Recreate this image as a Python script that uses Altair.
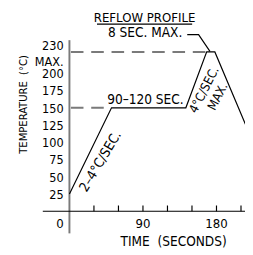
import altair as alt
import pandas as pd

# ---- data ----
profile_time = [0, 51.5, 142.5, 168, 178, 220]
profile_temp = [25, 150, 150, 231, 231, 113.5]

dash_time = [1.8, 168, 1.8, 42]
dash_temp = [231, 231, 150, 150]
dash_group = ["max", "max", "soak", "soak"]

x_tick_values = [30, 60, 90, 120, 150, 180, 210]
x_labels = ["0", "90", "180"]
x_label_pos = [-11.6, 90, 180]

y_labels = ["230", "MAX.", "200", "175", "150", "125", "100", "75", "50", "25"]
y_label_pos = [240.2, 218.2, 199.5, 175, 150, 125, 100, 75, 50, 25]

leader_time = [144.2, 158.1, 172]
leader_temp = [256.1, 256.1, 231.7]

FONT = "DejaVu Sans Condensed"

xs = alt.Scale(domain=[-75.2, 214.9], nice=False, zero=False)
ys = alt.Scale(domain=[-57.5, 288.8], nice=False, zero=False)


def X(field="t"):
    return alt.X(f"{field}:Q", scale=xs, axis=None)


def Y(field="v"):
    return alt.Y(f"{field}:Q", scale=ys, axis=None)


def txt(size, **kw):
    base = dict(font=FONT, fontSize=size, baseline="middle", color="black", dy=1)
    base.setdefault("align", "center")
    base.update(kw)
    return base


profile = alt.Chart(pd.DataFrame({"t": profile_time, "v": profile_temp})).mark_line(
    color="black", strokeWidth=1.2
).encode(x=X(), y=Y(), order=alt.Order("t:Q"))

dashes = alt.Chart(pd.DataFrame({"t": dash_time, "v": dash_temp, "g": dash_group})).mark_line(
    color="#7a7a7a", strokeWidth=2, strokeDash=[13, 8]
).encode(x=X(), y=Y(), detail="g:N")

leader = alt.Chart(pd.DataFrame({"t": leader_time, "v": leader_temp, "i": [0, 1, 2]})).mark_line(
    color="black", strokeWidth=1.2
).encode(x=X(), y=Y(), order="i:Q")

y_axis = alt.Chart(pd.DataFrame({"t": [0], "v": [248], "v2": [-32]})).mark_rule(
    color="#7a7a7a", strokeWidth=2
).encode(x=X(), y=Y(), y2="v2:Q")

x_axis = alt.Chart(pd.DataFrame({"t": [-32.6], "t2": [216], "v": [0]})).mark_rule(
    color="black", strokeWidth=1.2
).encode(x=X(), x2="t2:Q", y=Y())

x_ticks = alt.Chart(pd.DataFrame({"t": x_tick_values, "v": [0] * 7, "v2": [8.4] * 7})).mark_rule(
    color="black", strokeWidth=1.2
).encode(x=X(), y=Y(), y2="v2:Q")

x_tick_labels = alt.Chart(pd.DataFrame({"t": x_label_pos, "v": [-16.8] * 3, "s": x_labels})).mark_text(
    **txt(13.5)
).encode(x=X(), y=Y(), text="s:N")

y_tick_labels = alt.Chart(pd.DataFrame({"t": [-7.1] * len(y_labels), "v": y_label_pos, "s": y_labels})).mark_text(
    **txt(13, align="right")
).encode(x=X(), y=Y(), text="s:N")

texts_plain = alt.Chart(pd.DataFrame({
    "t": [127.5, 92.6, 93.0],
    "v": [-43, 260.3, 162.9],
    "s": ["TIME\u00a0\u00a0(SECONDS)", "8 SEC. MAX.", "90\u2013120 SEC."],
})).mark_text(**txt(14)).encode(x=X(), y=Y(), text="s:N")

title = alt.Chart(pd.DataFrame({"t": [92.0], "v": [281.8], "s": ["REFLOW PROFILE"]})).mark_text(
    **txt(13.5)
).encode(x=X(), y=Y(), text="s:N")

title_underline = alt.Chart(pd.DataFrame({"t": [33.7], "t2": [150.2], "v": [271.3]})).mark_rule(
    color="black", strokeWidth=1.2
).encode(x=X(), x2="t2:Q", y=Y())

y_title = alt.Chart(pd.DataFrame({"t": [-56.3], "v": [154.9], "s": ["TEMPERATURE\u00a0\u00a0(\u00b0C)"]})).mark_text(
    **txt(11.5, angle=270)
).encode(x=X(), y=Y(), text="s:N")

ramp1_text = alt.Chart(pd.DataFrame({"t": [37.3], "v": [72.9], "s": ["2\u20134\u00b0C/SEC."]})).mark_text(
    **txt(14, angle=301)
).encode(x=X(), y=Y(), text="s:N")

ramp2_text = alt.Chart(pd.DataFrame({"t": [164, 180.6], "v": [176.6, 166.8], "s": ["4\u00b0C/SEC.", "MAX."]})).mark_text(
    **txt(13, angle=297)
).encode(x=X(), y=Y(), text="s:N")

chart = alt.layer(
    dashes, y_axis, x_axis, x_ticks, profile, leader,
    x_tick_labels, y_tick_labels, texts_plain, title, title_underline, y_title,
    ramp1_text, ramp2_text,
).properties(
    width=245, height=247, padding=0, autosize=alt.AutoSizeParams(type="none"),
    background="white",
).configure_view(stroke=None)

chart.save("out.html", embed_options={"renderer": "svg", "actions": False})
